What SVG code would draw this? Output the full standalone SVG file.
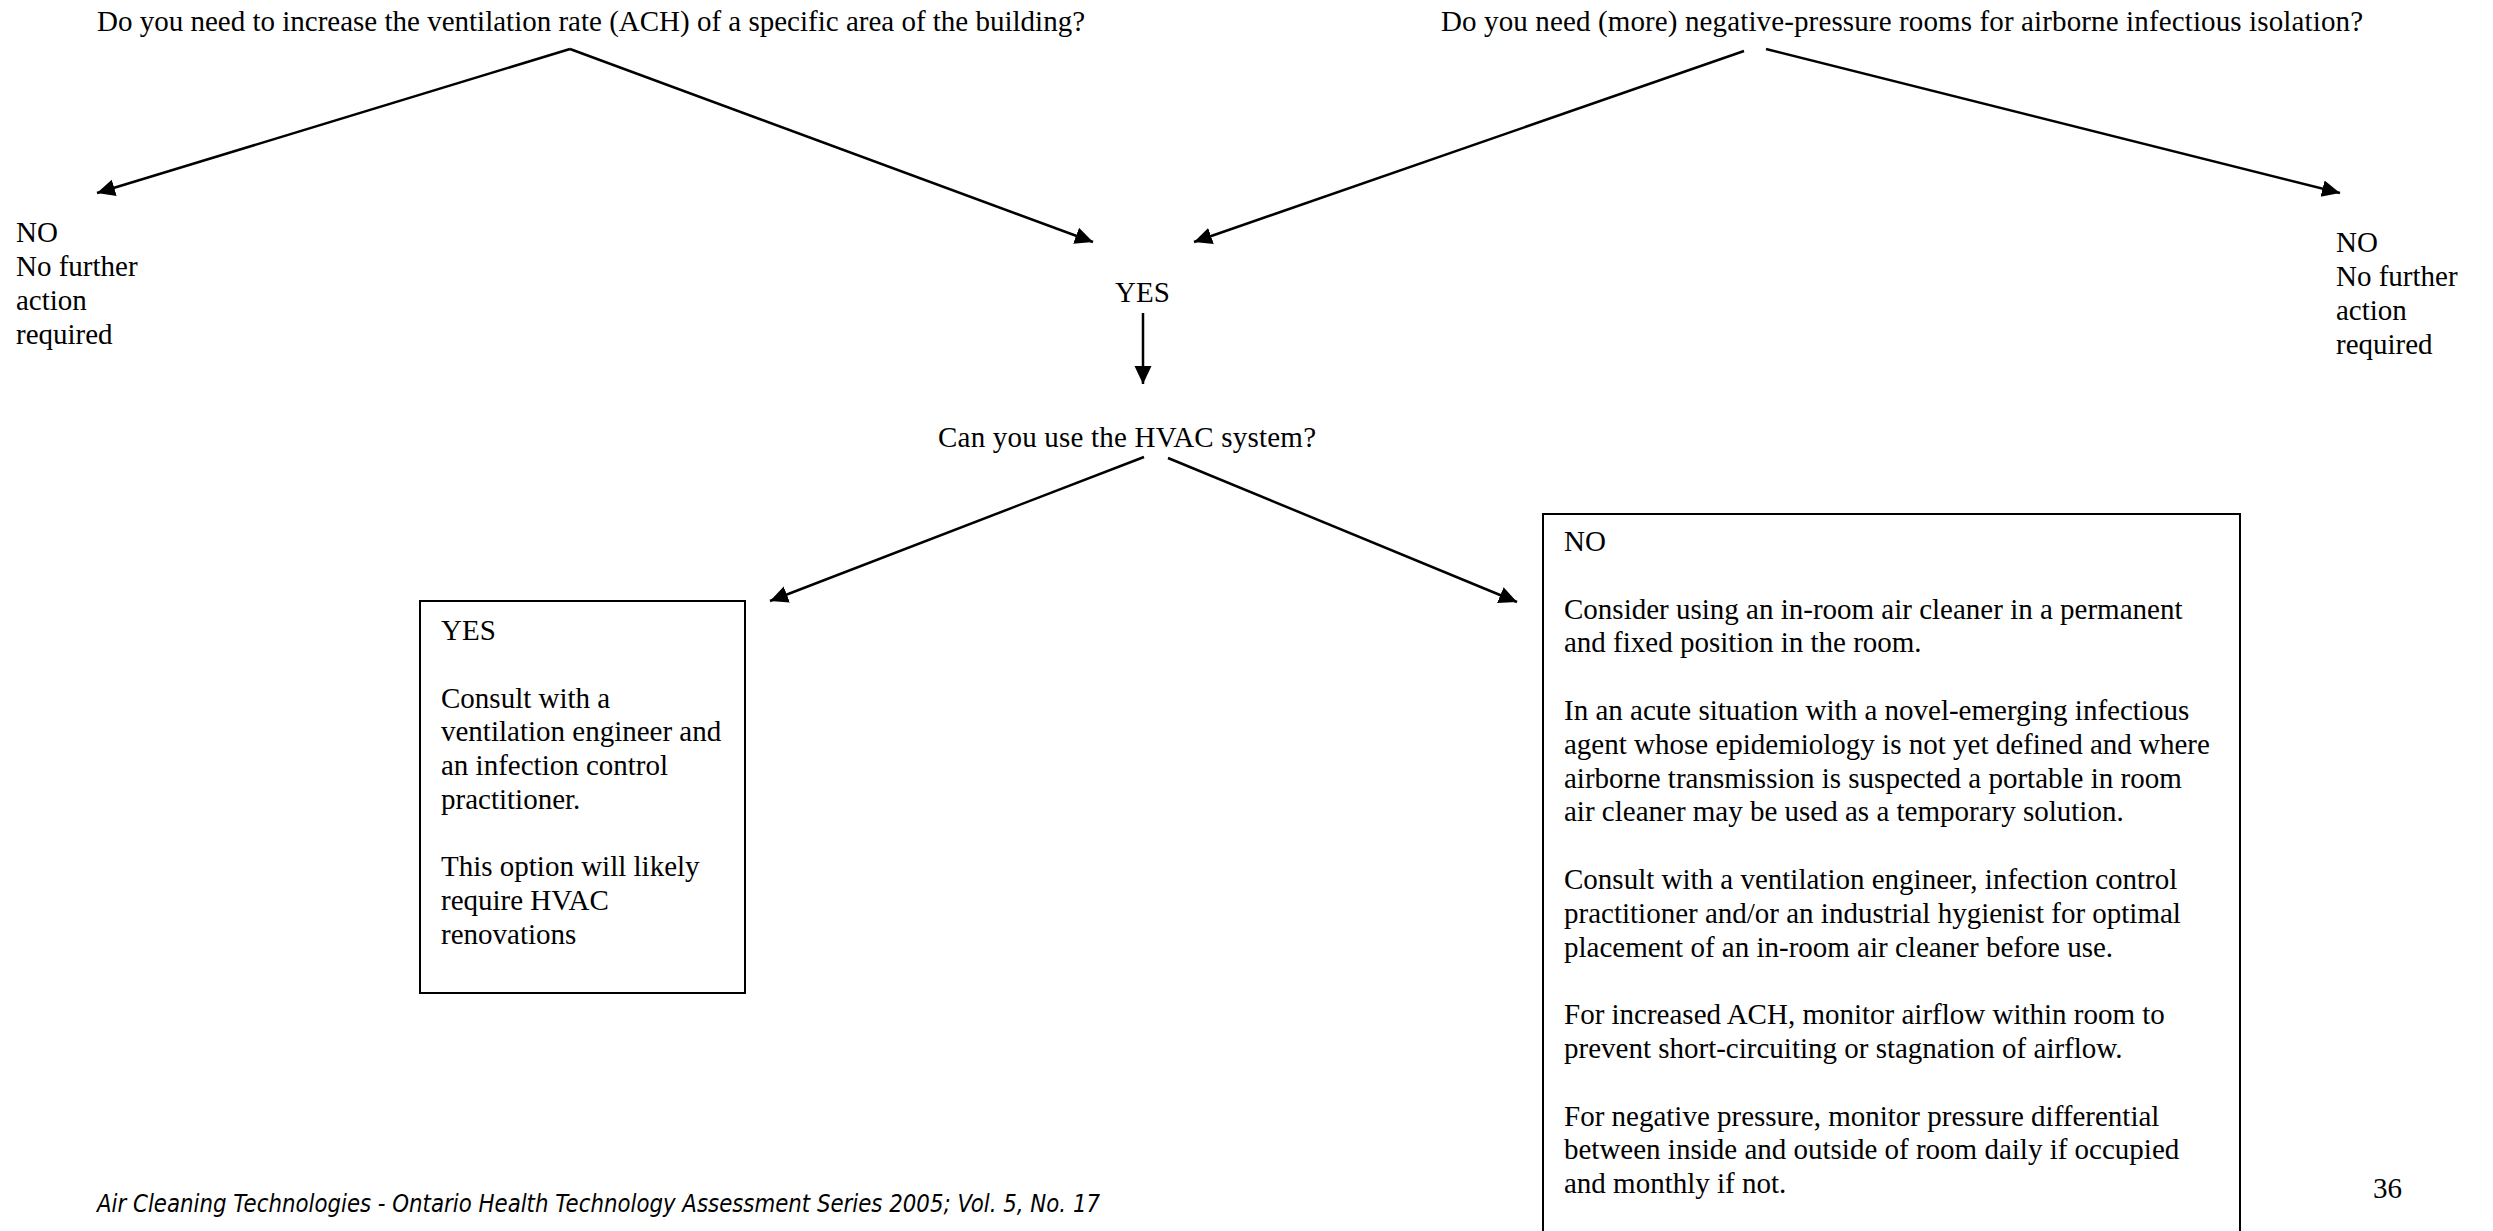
<svg xmlns="http://www.w3.org/2000/svg" width="2493" height="1231" viewBox="0 0 2493 1231">
<style>
text{font-family:"Liberation Serif","Times New Roman",serif;font-size:29px;fill:#000}
.foot{font-family:"DejaVu Sans","Liberation Sans",sans-serif;font-style:italic;font-size:24px}
.conn line{stroke:#000;stroke-width:2.5;fill:none}
.box{fill:#fff;stroke:#000;stroke-width:2}
</style>
<defs>
<marker id="ah" markerUnits="userSpaceOnUse" markerWidth="19" markerHeight="19" viewBox="0 0 19 19" refX="18" refY="9.5" orient="auto">
<path d="M0,1 L18,9.5 L0,18 Z" fill="#000"/>
</marker>
</defs>
<rect width="2493" height="1231" fill="#fff"/>
<g class="conn" id="connectors">
<line x1="570" y1="49" x2="97" y2="193" marker-end="url(#ah)"/>
<line x1="570" y1="49" x2="1093" y2="242" marker-end="url(#ah)"/>
<line x1="1744" y1="51" x2="1194" y2="242" marker-end="url(#ah)"/>
<line x1="1766" y1="49" x2="2340" y2="193" marker-end="url(#ah)"/>
<line x1="1143" y1="313" x2="1143" y2="384" marker-end="url(#ah)"/>
<line x1="1144" y1="457" x2="770" y2="601" marker-end="url(#ah)"/>
<line x1="1168" y1="458" x2="1517" y2="602" marker-end="url(#ah)"/>
</g>
<g id="q1"><text x="97" y="31">Do you need to increase the ventilation rate (ACH) of a specific area of the building?</text></g>
<g id="q2"><text x="1441" y="31" textLength="922">Do you need (more) negative-pressure rooms for airborne infectious isolation?</text></g>
<g id="no-left"><text x="16" y="242">NO<tspan x="16" dy="34">No further</tspan><tspan x="16" dy="34">action</tspan><tspan x="16" dy="34">required</tspan></text></g>
<g id="no-right"><text x="2336" y="252">NO<tspan x="2336" dy="34">No further</tspan><tspan x="2336" dy="34">action</tspan><tspan x="2336" dy="34">required</tspan></text></g>
<g id="yes-mid"><text x="1115" y="302">YES</text></g>
<g id="q3"><text x="938" y="447" textLength="378">Can you use the HVAC system?</text></g>
<g id="yes-box">
<rect class="box" x="420" y="601" width="325" height="392"/>
<text x="441" y="640">YES<tspan x="441" dy="67.5">Consult with a</tspan><tspan x="441" dy="33.8">ventilation engineer and</tspan><tspan x="441" dy="33.8">an infection control</tspan><tspan x="441" dy="33.8">practitioner.</tspan><tspan x="441" dy="67.5">This option will likely</tspan><tspan x="441" dy="33.8">require HVAC</tspan><tspan x="441" dy="33.8">renovations</tspan></text>
</g>
<g id="no-box">
<rect class="box" x="1543" y="514" width="697" height="740"/>
<text x="1564" y="551">NO<tspan x="1564" dy="67.6">Consider using an in-room air cleaner in a permanent</tspan><tspan x="1564" dy="33.8">and fixed position in the room.</tspan><tspan x="1564" dy="67.6">In an acute situation with a novel-emerging infectious</tspan><tspan x="1564" dy="33.8">agent whose epidemiology is not yet defined and where</tspan><tspan x="1564" dy="33.8">airborne transmission is suspected a portable in room</tspan><tspan x="1564" dy="33.8">air cleaner may be used as a temporary solution.</tspan><tspan x="1564" dy="67.6">Consult with a ventilation engineer, infection control</tspan><tspan x="1564" dy="33.8">practitioner and/or an industrial hygienist for optimal</tspan><tspan x="1564" dy="33.8">placement of an in-room air cleaner before use.</tspan><tspan x="1564" dy="67.6">For increased ACH, monitor airflow within room to</tspan><tspan x="1564" dy="33.8">prevent short-circuiting or stagnation of airflow.</tspan><tspan x="1564" dy="67.6">For negative pressure, monitor pressure differential</tspan><tspan x="1564" dy="33.8">between inside and outside of room daily if occupied</tspan><tspan x="1564" dy="33.8">and monthly if not.</tspan></text>
</g>
<g id="footer"><text class="foot" x="97" y="1212" textLength="1003" lengthAdjust="spacingAndGlyphs">Air Cleaning Technologies - Ontario Health Technology Assessment Series 2005; Vol. 5, No. 17</text></g>
<g id="page"><text x="2373" y="1198">36</text></g>
</svg>
